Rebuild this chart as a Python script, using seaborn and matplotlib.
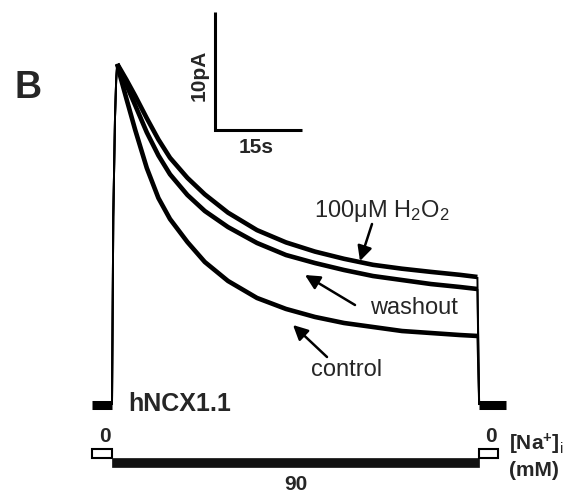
import numpy as np
import pandas as pd
import matplotlib
matplotlib.use("Agg")
import matplotlib.pyplot as plt
import seaborn as sns

# ---------------- data ----------------
# shared onset of the current (s, pA)
rise_t = [0.0, 0.09, 0.22, 0.52, 0.72, 0.9]
rise_pA = [0.0, 6.36, 15.93, 24.4, 27.54, 28.90]

# decay phase sample times (s)
decay_t = [0.9, 1.5, 2.5, 4, 6, 8, 10, 13, 16, 20, 25, 30, 35, 40, 45, 50, 55, 60, 63]
control_pA = [28.90, 27.71, 25.93, 23.31, 20.08, 17.54, 15.76, 13.81, 12.12, 10.51,
              9.07, 8.14, 7.46, 6.95, 6.61, 6.27, 6.10, 5.93, 5.85]
washout_pA = [28.90, 28.22, 27.10, 25.40, 23.10, 21.15, 19.55, 17.80, 16.44, 15.08,
              13.73, 12.71, 12.03, 11.44, 10.93, 10.59, 10.25, 10.00, 9.83]
h2o2_pA = [28.90, 28.40, 27.55, 26.20, 24.30, 22.50, 20.95, 19.25, 17.85, 16.30,
           14.82, 13.78, 13.00, 12.39, 11.88, 11.55, 11.28, 11.03, 10.85]
off_t = 63.3  # Na+ removal

conditions = ["control", "washout", "100uM H2O2"]
series = [control_pA, washout_pA, h2o2_pA]

# baseline segments (s)
base_t = [[-3.4, 0.0], [63.3, 67.9]]

# [Na+]i protocol
stim_conc = ["0", "90", "0"]
stim_start = [-3.45, 0.0, 63.3]
stim_end = [0.0, 63.3, 66.6]

# scale bar
bar_pA = 10
bar_s = 15

# ---------------- build tables ----------------
drows, frows = [], []
for cond, vals in zip(conditions, series):
    for t, y in zip(decay_t, vals):
        drows.append({"cond": cond, "t": t, "I": y})
    # fast phases: onset and removal of Na+
    for t, y in zip(rise_t, rise_pA):
        frows.append({"cond": cond + " on", "t": t, "I": y})
    for t, y in zip([decay_t[-1], off_t], [vals[-1], 0.0]):
        frows.append({"cond": cond + " off", "t": t, "I": y})
df = pd.DataFrame(drows)
fdf = pd.DataFrame(frows)

brows = []
for k, seg in enumerate(base_t):
    for t in seg:
        brows.append({"seg": k, "t": t, "I": 0.0})
bdf = pd.DataFrame(brows)

# ---------------- figure ----------------
sns.set_theme(style="white")
plt.rcParams["font.family"] = ["Liberation Sans", "DejaVu Sans"]
plt.rcParams["mathtext.fontset"] = "custom"
plt.rcParams["mathtext.rm"] = "Liberation Sans"
plt.rcParams["mathtext.it"] = "Liberation Sans:italic"
plt.rcParams["mathtext.bf"] = "Liberation Sans:bold"
plt.rcParams["lines.solid_capstyle"] = "butt"

fig = plt.figure(figsize=(5.71, 4.95), dpi=100)
ax = fig.add_axes([0, 0, 1, 1])

X0, Y0, SX, SY = 112, 405, 5.8, 11.8  # pixel layout helper


def P(x, y):
    return ((x - X0) / SX, (Y0 - y) / SY)


sns.lineplot(data=df, x="t", y="I", hue="cond", units="cond", estimator=None,
             sort=False, palette={c: "black" for c in conditions}, legend=False,
             lw=3.3, ax=ax)
sns.lineplot(data=fdf, x="t", y="I", units="cond", estimator=None, sort=False,
             color="black", lw=1.4, legend=False, ax=ax)
sns.lineplot(data=bdf, x="t", y="I", units="seg", estimator=None, sort=False,
             color="black", lw=6.5, legend=False, ax=ax)

# protocol bar
for conc, s, e in zip(stim_conc, stim_start, stim_end):
    if conc == "0":
        ax.barh(P(0, 453.5)[1], e - s, left=s, height=0.72, color="white",
                edgecolor="black", lw=1.5)
    else:
        ax.barh(P(0, 462.5)[1], e - s, left=s, height=0.76, color="#111111",
                edgecolor="#111111", lw=0.5)

# scale bar
t0, i0 = P(215, 130)
ax.plot([t0, t0, t0 + bar_s], [i0 + bar_pA, i0, i0], color="black", lw=2.2,
        solid_joinstyle="miter")

# texts
ax.text(*P(28, 88), "B", fontsize=27, fontweight="bold", ha="center", va="center")
ax.text(*P(199, 75), f"{bar_pA}pA", rotation=90, fontsize=15, fontweight="bold",
        ha="center", va="center")
ax.text(*P(256, 148), f"{bar_s}s", fontsize=15, fontweight="bold",
        ha="center", va="center")
ax.text(*P(382, 211), r"100μM H$_2$O$_2$", fontsize=17, ha="center", va="center")
ax.text(*P(414, 308), "washout", fontsize=17, ha="center", va="center")
ax.text(*P(347, 370), "control", fontsize=17, ha="center", va="center")
ax.text(*P(128, 404), "hNCX1.1", fontsize=18, fontweight="bold", ha="left", va="center")
ax.text(*P(105, 436), stim_conc[0], fontsize=15, fontweight="bold", ha="center", va="center")
ax.text(*P(491, 436), stim_conc[2], fontsize=15, fontweight="bold", ha="center", va="center")
ax.text(*P(296, 484), stim_conc[1], fontsize=15, fontweight="bold", ha="center", va="center")
ax.text(*P(509, 444), r"[Na$^\mathbf{+}$]$_\mathrm{i}$", fontsize=15, fontweight="bold",
        ha="left", va="center")
ax.text(*P(509, 471), "(mM)", fontsize=15, fontweight="bold", ha="left", va="center")

# arrows
arrow_kw = dict(arrowstyle="-|>", color="black", lw=1.8, mutation_scale=22,
                shrinkA=0, shrinkB=0)
ax.annotate("", xy=P(360, 261), xytext=P(372, 224), arrowprops=arrow_kw)
ax.annotate("", xy=P(305, 275), xytext=P(355, 305), arrowprops=arrow_kw)
ax.annotate("", xy=P(293, 325), xytext=P(327, 357), arrowprops=arrow_kw)

ax.set_xlim(P(0, 0)[0], P(571, 0)[0])
ax.set_ylim(P(0, 495)[1], P(0, 0)[1])
ax.axis("off")

fig.savefig("out.png", dpi=100, facecolor="white")
